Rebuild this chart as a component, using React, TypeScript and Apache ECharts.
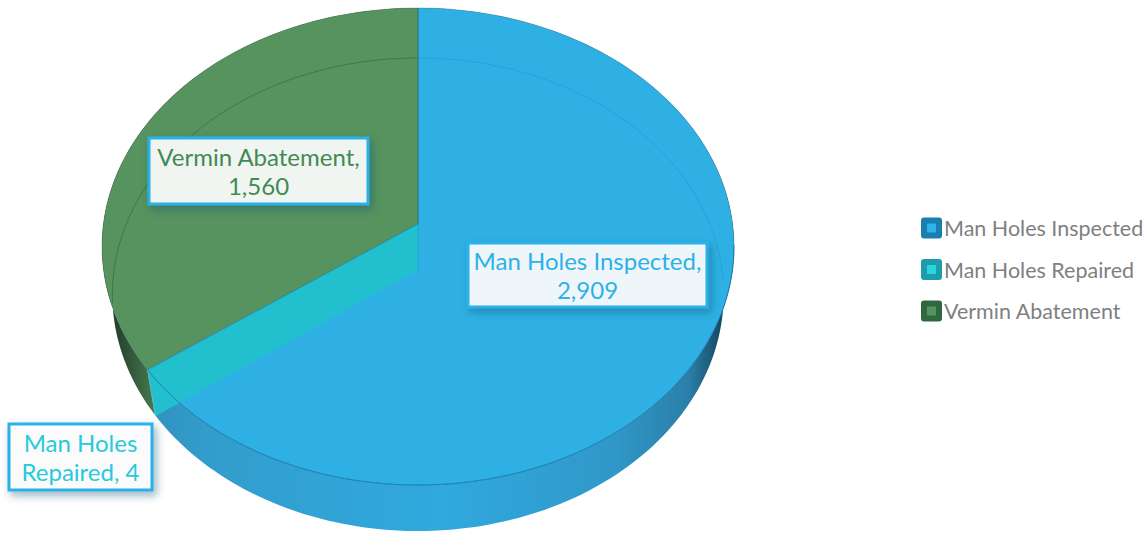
import React, { useEffect, useRef } from "react";
import * as echarts from "echarts";

const categories = ["Man Holes Inspected", "Man Holes Repaired", "Vermin Abatement"];
const values = [2909, 4, 1560];
const tickText = ["2,909", "4", "1,560"];
const labelLines = [
  ["Man Holes Inspected,", "2,909"],
  ["Man Holes", "Repaired, 4"],
  ["Vermin Abatement,", "1,560"],
];
const topColors = ["#2fb0e5", "#22c0cf", "#56935f"];
const labelColors = ["#2db1e8", "#27cadb", "#3f8a55"];
const legendBorders = ["#1a7eae", "#1d9dab", "#2f6840"];
const legendFills = ["#2fb3ea", "#2dd3e0", "#56935f"];
const labelBoxes = [
  [468, 243, 239, 64],
  [9, 424, 143, 66],
  [149, 138, 219, 66],
];

const FONT = "Lato";
const TOP = { cx: 418, cy: 224, a: 236.4, b: 314.6, k: 0.0943 };
const BOTTOM = { cx: 418, cy: 270, a: 234, b: 304, k: 0.1036 };
const total = values.reduce((s, v) => s + v, 0);

function project(p: typeof TOP, deg: number): [number, number] {
  const r = (deg * Math.PI) / 180;
  const u = Math.sin(r);
  const v = -Math.cos(r);
  const w = 1 - p.k * v;
  return [p.cx + (p.b * u) / w, p.cy + (p.a * v) / w];
}

function arc(p: typeof TOP, from: number, to: number): [number, number][] {
  const n = Math.max(2, Math.ceil(Math.abs(to - from) / 1.5));
  const out: [number, number][] = [];
  for (let i = 0; i <= n; i++) out.push(project(p, from + ((to - from) * i) / n));
  return out;
}

function sliceAngles(index: number): [number, number] {
  let sum = 0;
  for (let i = 0; i < index; i++) sum += values[i];
  return [(sum / total) * 360, ((sum + values[index]) / total) * 360];
}

const wallFills = [
  () =>
    new echarts.graphic.LinearGradient(150, 0, 730, 0, [
      { offset: 0, color: "#3192c0" },
      { offset: 0.1, color: "#329dcc" },
      { offset: 0.5, color: "#30a9de" },
      { offset: 0.8, color: "#3098c8" },
      { offset: 0.93, color: "#2a7fa8" },
      { offset: 1, color: "#123a4f" },
    ] as any, true as any),
  () => "#22bccb",
  () =>
    new echarts.graphic.LinearGradient(106, 0, 158, 0, [
      { offset: 0, color: "#1c3522" },
      { offset: 0.5, color: "#33593c" },
      { offset: 1, color: "#4a7d52" },
    ] as any, true as any),
];

function makeRenderItem(index: number) {
  return () => {
    const [a0, a1] = sliceAngles(index);
    const children: any[] = [];
    const topRim = arc(TOP, a0, a1);
    const botRim = arc(BOTTOM, a0, a1);
    // outer wall
    children.push({
      type: "polygon",
      z2: 1,
      shape: { points: [...topRim, ...botRim.slice().reverse()] },
      style: { fill: wallFills[index]() },
    });
    // top face
    children.push({
      type: "polygon",
      z2: 2,
      shape: { points: [[TOP.cx, TOP.cy], ...topRim] },
      style: { fill: topColors[index], stroke: "rgba(60,70,75,0.45)", lineWidth: 0.6 },
    });
    // the slice's cut face towards the viewer
    if (index === 1) {
      const rim = project(TOP, a0);
      const low = project(BOTTOM, a0);
      children.push({
        type: "polygon",
        z2: 3,
        shape: { points: [[TOP.cx, TOP.cy], rim, low, [BOTTOM.cx, BOTTOM.cy]] },
        style: { fill: topColors[1] },
      });
    }
    // see-through outlines
    if (index === 0) {
      children.push({
        type: "polyline",
        z2: 4,
        shape: { points: arc(BOTTOM, 0, 92) },
        style: { stroke: "rgba(25,150,215,0.55)", lineWidth: 1, fill: "none" },
      });
      children.push({
        type: "polyline",
        z2: 4,
        shape: { points: arc(TOP, 95, a1) },
        style: { stroke: "rgba(18,125,180,0.85)", lineWidth: 1, fill: "none" },
      });
      children.push({
        type: "line",
        z2: 4,
        shape: { x1: TOP.cx, y1: TOP.cy, x2: BOTTOM.cx, y2: BOTTOM.cy },
        style: { stroke: "rgba(20,150,190,0.5)", lineWidth: 1 },
      });
    }
    if (index === 2) {
      children.push({
        type: "polyline",
        z2: 4,
        shape: { points: arc(BOTTOM, 262, 360) },
        style: { stroke: "rgba(35,105,65,0.6)", lineWidth: 1, fill: "none" },
      });
      const rim = project(TOP, a0);
      children.push({
        type: "line",
        z2: 5,
        shape: { x1: TOP.cx, y1: TOP.cy, x2: rim[0], y2: rim[1] },
        style: { stroke: "rgba(20,150,170,0.7)", lineWidth: 1 },
      });
      children.push({
        type: "line",
        z2: 5,
        shape: { x1: TOP.cx, y1: 8, x2: TOP.cx, y2: TOP.cy },
        style: { stroke: "rgba(30,120,150,0.55)", lineWidth: 1.2 },
      });
    }
    // data label
    const [x, y, w, h] = labelBoxes[index];
    children.push({
      type: "rect",
      z2: 10,
      shape: { x, y, width: w, height: h },
      style: {
        fill: "rgba(255,255,255,0.9)",
        stroke: "#2bb1e8",
        lineWidth: 3,
        shadowBlur: 9,
        shadowOffsetX: 3,
        shadowOffsetY: 4,
        shadowColor: "rgba(20,80,110,0.45)",
      },
    });
    labelLines[index].forEach((line, i) => {
      children.push({
        type: "text",
        z2: 11,
        style: {
          text: line,
          x: x + w / 2,
          y: y + h / 2 + (i === 0 ? -14.5 : 14.5),
          fill: labelColors[index],
          fontFamily: FONT,
          fontSize: 24,
          align: "center",
          verticalAlign: "middle",
        },
      });
    });
    return { type: "group", children };
  };
}

export default function App() {
  const ref = useRef<HTMLDivElement>(null);
  useEffect(() => {
    if (!ref.current) return;
    const chart = echarts.init(ref.current, undefined, { renderer: "svg" });
    chart.setOption({
      animation: false,
      backgroundColor: "#ffffff",
      legend: {
        orient: "vertical",
        left: 921,
        top: 217,
        padding: 0,
        itemWidth: 15,
        itemHeight: 15,
        itemGap: 19.5,
        icon: "rect",
        selectedMode: false,
        textStyle: { fontFamily: FONT, fontSize: 21.5, color: "#7f7f7f" },
        data: categories.map((name, i) => ({
          name,
          itemStyle: {
            color: legendFills[i],
            borderColor: legendBorders[i],
            borderWidth: 6,
            borderJoin: "round",
          },
        })),
      },
      series: categories.map((name, i) => ({
        type: "custom",
        name,
        coordinateSystem: "none",
        silent: true,
        itemStyle: { color: legendFills[i] },
        renderItem: makeRenderItem(i),
        data: [{ name: tickText[i], value: values[i] }],
      })),
    });
    return () => chart.dispose();
  }, []);
  return (
    <div
      ref={ref}
      style={{ position: "absolute", left: 0, top: 0, width: 1148, height: 533 }}
    />
  );
}
